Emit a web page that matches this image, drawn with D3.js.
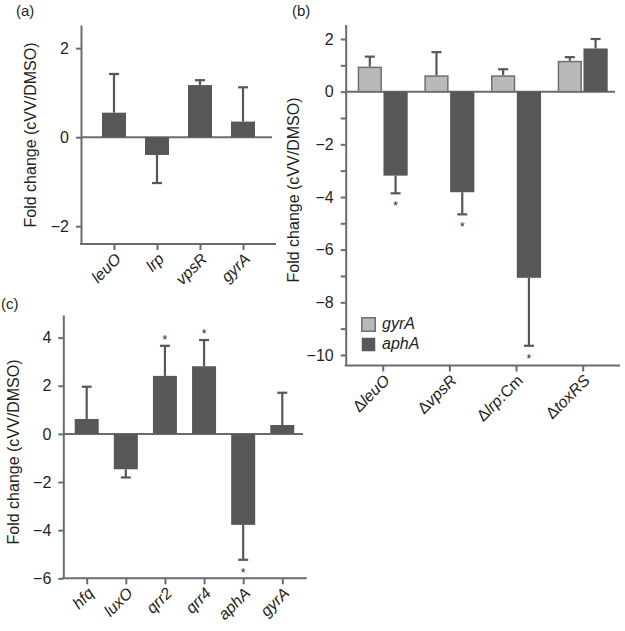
<!DOCTYPE html>
<html><head><meta charset="utf-8">
<script src="https://cdn.jsdelivr.net/npm/d3@7"></script>
<style>body{margin:0;background:#fff}svg{display:block}text{font-family:"Liberation Sans",Arial,sans-serif}</style>
</head><body>
<script>
// ---------- data ----------
const catsA = ["leuO", "lrp", "vpsR", "gyrA"];
const valsA = [0.55, -0.40, 1.17, 0.35];
const errA  = [0.87, 0.63, 0.11, 0.77];

const genesB  = ["leuO", "vpsR", "lrp", "toxRS"];
const suffixB = ["", "", ":Cm", ""];
const seriesB = ["gyrA", "aphA"];
const gyrB    = [0.95, 0.62, 0.62, 1.17];
const gyrErrB = [0.38, 0.88, 0.23, 0.14];
const aphB    = [-3.19, -3.82, -7.07, 1.64];
const aphErrB = [0.67, 0.84, 2.58, 0.36];
const aphSigB = [true, true, true, false];

const catsC = ["hfq", "luxO", "qrr2", "qrr4", "aphA", "gyrA"];
const valsC = [0.62, -1.47, 2.41, 2.81, -3.78, 0.37];
const errC  = [1.34, 0.34, 1.25, 1.09, 1.45, 1.34];
const sigC  = [false, false, true, true, true, false];

const ticksA = [-2, 0, 2];
const ticksB = [-10, -9, -8, -7, -6, -5, -4, -3, -2, -1, 0, 1, 2];
const ticksC = [-6, -4, -2, 0, 2, 4];

// ---------- style ----------
const DARK = "#575757", LIGHT = "#b9b9b9", AX = "#6b6b6b", TXT = "#231f20";
const svg = d3.select("body").append("svg").attr("width", 625).attr("height", 631);

function frame(o) {
  const g = svg.append("g");
  const y = d3.scaleLinear().domain(o.yDomain).range(o.yRange);
  const x = d3.scalePoint().domain(o.cats).range(o.xRange);
  const ya = g.append("g").attr("transform", `translate(${o.axisX},0)`)
    .call(d3.axisLeft(y).tickValues(o.yTicks).tickSize(5).tickSizeOuter(0).tickPadding(7)
      .tickFormat(d => (d % 2 === 0 ? d3.format("")(d) : "")));
  ya.select(".domain").attr("stroke", AX).attr("stroke-width", 2);
  ya.selectAll(".tick line").attr("stroke", AX).attr("stroke-width", 2);
  ya.selectAll(".tick text").attr("fill", TXT).style("font-size", "16px");
  const yb = y(o.yDomain[0]);
  g.append("line").attr("x1", o.axisX - 1).attr("x2", o.xEnd).attr("y1", yb).attr("y2", yb)
    .attr("stroke", AX).attr("stroke-width", 2);
  const xa = g.append("g").attr("transform", `translate(0,${yb})`)
    .call(d3.axisBottom(x).tickSize(6).tickSizeOuter(0).tickFormat(() => null));
  xa.select(".domain").remove();
  xa.selectAll(".tick line").attr("stroke", AX).attr("stroke-width", 2);
  // category labels at -45 degrees
  o.cats.forEach((d, i) => {
    const lg = g.append("g")
      .attr("transform", `translate(${x(d) + o.lblDx},${yb + o.lblDy}) rotate(-45)`);
    const t = lg.append("text").attr("x", 0).attr("y", 0)
      .attr("text-anchor", "end").attr("fill", TXT).style("font-size", "16px");
    o.label(t, d, i);
  });
  g.append("text").attr("transform", `translate(${o.titleX},${o.titleY}) rotate(-90)`)
    .attr("text-anchor", "middle").attr("fill", TXT).style("font-size", "16px")
    .text("Fold change (cVV/DMSO)");
  g.append("text").attr("x", o.tagX).attr("y", o.tagY).attr("fill", TXT)
    .style("font-size", "15px").text(o.tag);
  return { g, x, y };
}

function zeroLine(p, x1, x2) {
  p.g.append("line").attr("x1", x1).attr("x2", x2).attr("y1", p.y(0)).attr("y2", p.y(0))
    .attr("stroke", AX).attr("stroke-width", 2);
}

function bar(p, cx, w, v, e, fill, stroke) {
  const y0 = p.y(0), y1 = p.y(v), ye = p.y(v + Math.sign(v) * e);
  p.g.append("line").attr("x1", cx).attr("x2", cx).attr("y1", y1).attr("y2", ye)
    .attr("stroke", DARK).attr("stroke-width", 2.2);
  p.g.append("line").attr("x1", cx - 5).attr("x2", cx + 5).attr("y1", ye).attr("y2", ye)
    .attr("stroke", DARK).attr("stroke-width", 2.2);
  const r = p.g.append("rect").attr("x", cx - w / 2).attr("width", w)
    .attr("y", Math.min(y0, y1)).attr("height", Math.abs(y1 - y0)).attr("fill", fill);
  if (stroke) r.attr("stroke", stroke).attr("stroke-width", 1.5)
    .attr("x", cx - w / 2 + 0.75).attr("width", w - 1.5)
    .attr("y", Math.min(y0, y1) + 0.75).attr("height", Math.abs(y1 - y0) - 0.75);
  return ye;
}

function star(p, cx, ye, v) {
  const yy = v > 0 ? ye - 9 : ye + 10;
  p.g.append("text").attr("x", cx).attr("y", yy + 7).attr("text-anchor", "middle")
    .attr("fill", TXT).style("font-size", "12px").text("*");
}

// ---------- panel (a) ----------
const pa = frame({
  cats: catsA, xRange: [114, 243], yDomain: [-2.4, 2.52], yRange: [244, 25], yTicks: ticksA,
  axisX: 81, xEnd: 276, lblDx: 8, lblDy: 16, titleX: 36, titleY: 135, tag: "(a)", tagX: 16, tagY: 16,
  label: (t, d) => t.style("font-style", "italic").text(d)
});
zeroLine(pa, 81, 272);
catsA.forEach((c, i) => bar(pa, pa.x(c), 24, valsA[i], errA[i], DARK));

// ---------- panel (b) ----------
const pb = frame({
  cats: genesB, xRange: [382.7, 582.7], yDomain: [-10.4, 2.55], yRange: [365.5, 24.5], yTicks: ticksB,
  axisX: 345.7, xEnd: 620, lblDx: 8, lblDy: 16, titleX: 299, titleY: 190, tag: "(b)", tagX: 292, tagY: 16,
  label: (t, d, i) => {
    t.append("tspan").text("Δ");
    t.append("tspan").style("font-style", "italic").text(d);
    if (suffixB[i]) t.append("tspan").text(suffixB[i]);
  }
});
zeroLine(pb, 345.7, 615);
const inner = d3.scaleBand().domain(seriesB).range([-25, 25]).paddingInner(0.06);
genesB.forEach((c, i) => {
  const cx = pb.x(c);
  bar(pb, cx + inner("gyrA") + inner.bandwidth() / 2, inner.bandwidth(), gyrB[i], gyrErrB[i], LIGHT, "#6f6f6f");
  const ye = bar(pb, cx + inner("aphA") + inner.bandwidth() / 2, inner.bandwidth(), aphB[i], aphErrB[i], DARK);
  if (aphSigB[i]) star(pb, cx + inner("aphA") + inner.bandwidth() / 2, ye, aphB[i]);
});
const leg = pb.g.append("g").attr("transform", "translate(361,317)");
seriesB.forEach((s, i) => {
  const r = leg.append("rect").attr("x", 0.75).attr("y", i * 20 + 0.75).attr("width", 13.5).attr("height", 13.5)
    .attr("fill", i === 0 ? LIGHT : DARK);
  if (i === 0) r.attr("stroke", "#6f6f6f").attr("stroke-width", 1.5);
  leg.append("text").attr("x", 21).attr("y", i * 20 + 12).attr("fill", TXT)
    .style("font-size", "16px").style("font-style", "italic").text(s);
});

// ---------- panel (c) ----------
const pc = frame({
  cats: catsC, xRange: [86.7, 282.3], yDomain: [-6, 4.94], yRange: [578.3, 315], yTicks: ticksC,
  axisX: 63.3, xEnd: 306.7, lblDx: 8, lblDy: 16, titleX: 19, titleY: 452, tag: "(c)", tagX: 1, tagY: 309,
  label: (t, d) => t.style("font-style", "italic").text(d)
});
zeroLine(pc, 63.3, 303);
catsC.forEach((c, i) => {
  const ye = bar(pc, pc.x(c), 24, valsC[i], errC[i], DARK);
  if (sigC[i]) star(pc, pc.x(c), ye, valsC[i]);
});
</script>
</body></html>
